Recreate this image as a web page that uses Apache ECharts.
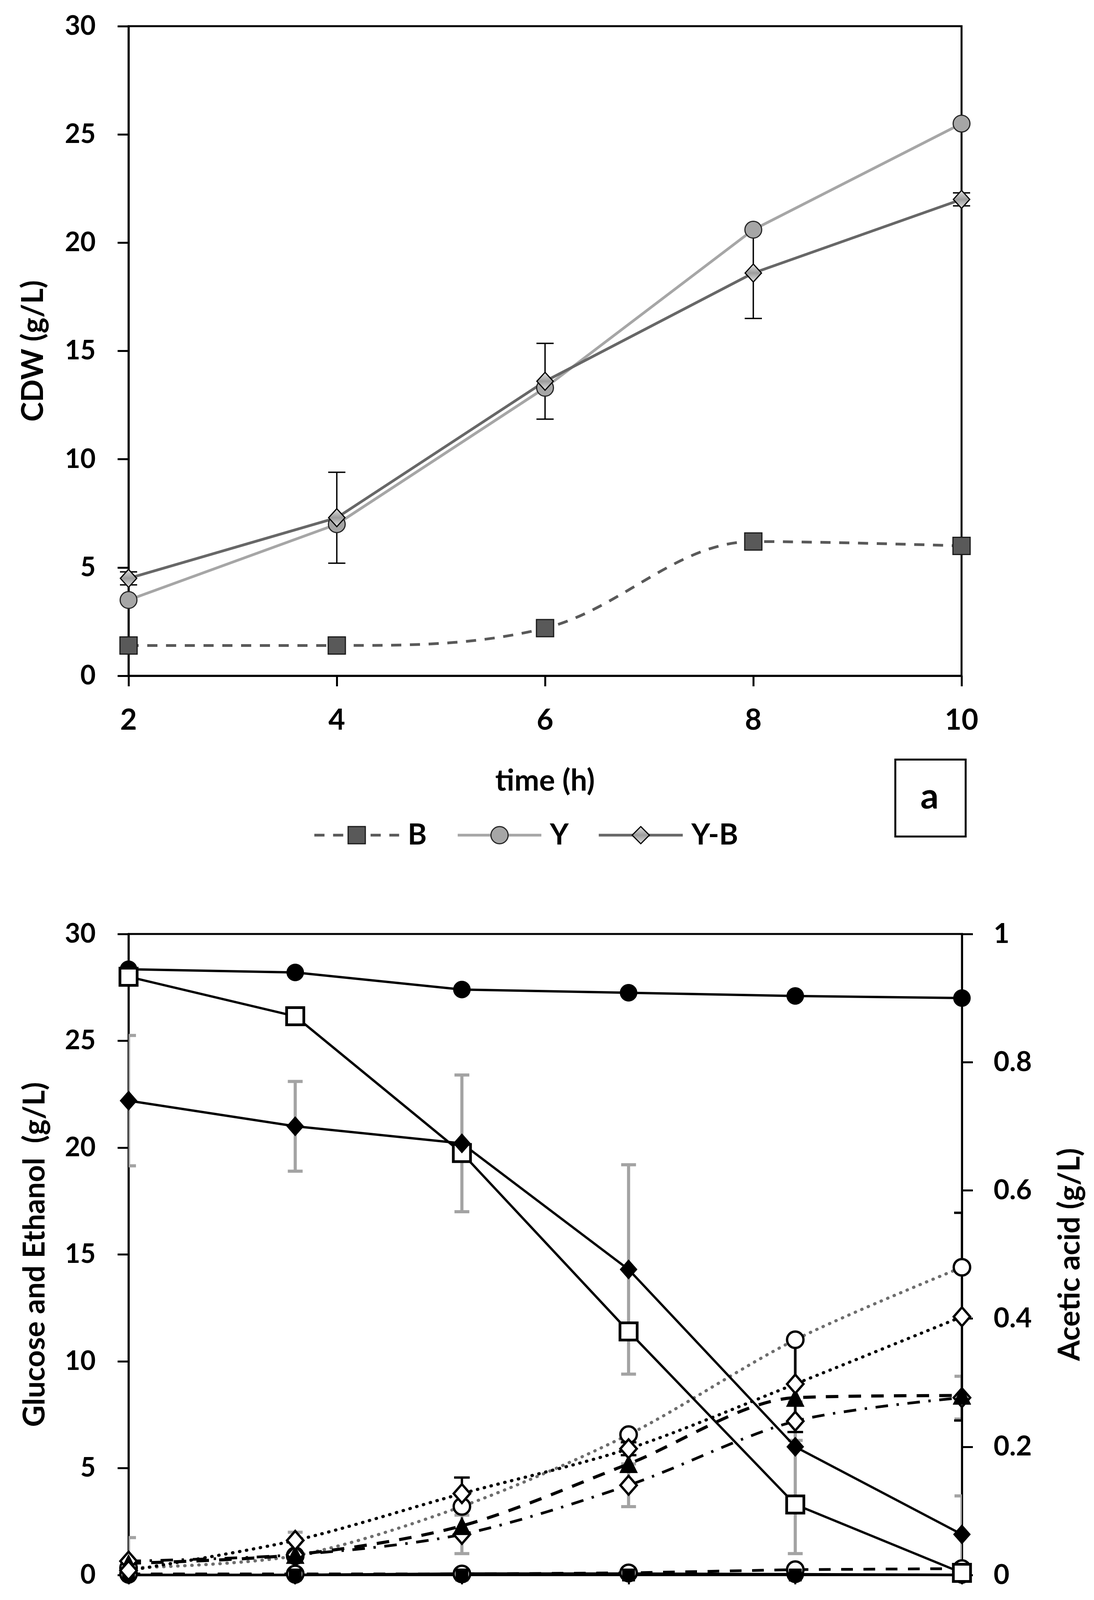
<!DOCTYPE html>
<html><head><meta charset="utf-8">
<script src="https://cdn.jsdelivr.net/npm/echarts@6.0.0/dist/echarts.min.js"></script>
<style>html,body{margin:0;padding:0;background:#fff}#c{width:2800px;height:4917px}</style>
</head><body><div id="c"></div>
<script>
// ---------- panel a : CDW ----------
const timeA = [2, 4, 6, 8, 10];
const cdwB = [1.4, 1.4, 2.2, 6.2, 6.0];
const cdwY = [3.5, 7.0, 13.3, 20.6, 25.5];
const cdwYB = [4.5, 7.3, 13.6, 18.6, 22.0];
const cdwYBErr = [0.3, 2.1, 1.75, 2.1, 0.3];
const axisA = { xMin: 2, xMax: 10, xStep: 2, yMin: 0, yMax: 30, yStep: 5 };

// ---------- panel b : glucose / ethanol / acetic acid ----------
const timeB = [0, 2, 4, 6, 8, 10];
const ybGlucose = [22.2, 21.0, 20.2, 14.3, 6.0, 1.9];
const ybGlucoseErr = [3.05, 2.1, 3.2, 4.9, 5.0, 1.8];
const yGlucose = [28.0, 26.15, 19.75, 11.4, 3.3, 0.1];
const bGlucose = [28.35, 28.2, 27.4, 27.25, 27.1, 27.0];
const ybEthanol = [0.65, 0.95, 1.9, 4.2, 7.2, 8.3];
const ybEthanolErr = [1.1, 1.05, 0.9, 1.0, 0.9, 1.0];
const yEthanol = [0.55, 0.95, 2.3, 5.2, 8.3, 8.4];
const bEthanol = [0.05, 0.05, 0.05, 0.1, 0.25, 0.3];
const ybAcetic = [0.007, 0.054, 0.127, 0.197, 0.298, 0.403];
const ybAceticErr = [0, 0, 0.025, 0.01, 0.075, 0.162];
const bAcetic = [0.011, 0.030, 0.107, 0.219, 0.367, 0.480];
const yAcetic = [0, 0, 0, 0, 0, 0];
const zeroLine = [0, 0, 0.002, 0.002, 0.001, 0];
const axisB = { xMin: 0, xMax: 10, xStep: 2, yMin: 0, yMax: 30, yStep: 5, y2Min: 0, y2Max: 1, y2Step: 0.2 };

const FONT = 'Lato, "Open Sans", sans-serif';
function txt(size) { return { fontFamily: FONT, fontWeight: 'bold', fontSize: size, color: '#000' }; }
function pts(xs, ys) { return xs.map((x, i) => [x, ys[i]]); }
function errPts(xs, ys, es) {
  const out = [];
  xs.forEach((x, i) => { if (es[i] > 0) out.push([x, ys[i] - es[i], ys[i] + es[i]]); });
  return out;
}
function errRender(color, width, cap) {
  return function (params, api) {
    const x = api.value(0), lo = api.value(1), hi = api.value(2);
    const p1 = api.coord([x, lo]), p2 = api.coord([x, hi]);
    const st = { stroke: color, lineWidth: width };
    return { type: 'group', children: [
      { type: 'line', shape: { x1: p1[0], y1: p1[1], x2: p2[0], y2: p2[1] }, style: st },
      { type: 'line', shape: { x1: p1[0] - cap / 2, y1: p1[1], x2: p1[0] + cap / 2, y2: p1[1] }, style: st },
      { type: 'line', shape: { x1: p2[0] - cap / 2, y1: p2[1], x2: p2[0] + cap / 2, y2: p2[1] }, style: st }
    ] };
  };
}

const axisLine = { show: true, lineStyle: { color: '#000', width: 5 } };
function tick(len) { return { show: true, inside: false, length: len, lineStyle: { color: '#000', width: 5 } }; }

const legendCommon = {
  padding: 0, itemHeight: 55, selectedMode: false,
  textStyle: Object.assign(txt(74), { padding: [0, 0, 0, 17] }),
  lineStyle: { width: 'inherit' }, itemStyle: { borderWidth: 'inherit' }
};

const option = {
  animation: false,
  backgroundColor: '#fff',
  grid: [
    { left: 329, top: 67, width: 2132, height: 1663, show: true, borderColor: '#000', borderWidth: 5, containLabel: false, outerBoundsMode: 'none' },
    { left: 329, top: 2391, width: 2133, height: 1641, show: true, borderColor: '#000', borderWidth: 5, containLabel: false, outerBoundsMode: 'none' }
  ],
  xAxis: [
    { type: 'value', gridIndex: 0, min: axisA.xMin, max: axisA.xMax, interval: axisA.xStep,
      axisLine: axisLine, axisTick: tick(27), splitLine: { show: false },
      axisLabel: Object.assign(txt(74), { margin: 77 }),
      name: 'time (h)', nameLocation: 'middle', nameGap: 231, nameTextStyle: txt(76), nameMoveOverlap: false },
    { type: 'value', gridIndex: 1, min: axisB.xMin, max: axisB.xMax, interval: axisB.xStep,
      axisLine: axisLine, axisTick: tick(24), splitLine: { show: false },
      axisLabel: Object.assign(txt(74), { margin: 80 }),
      name: 'time (h)', nameLocation: 'middle', nameGap: 198, nameTextStyle: txt(76), nameMoveOverlap: false }
  ],
  yAxis: [
    { type: 'value', gridIndex: 0, min: axisA.yMin, max: axisA.yMax, interval: axisA.yStep,
      axisLine: axisLine, axisTick: tick(28), splitLine: { show: false },
      axisLabel: Object.assign(txt(68), { margin: 84 }),
      name: 'CDW (g/L)', nameLocation: 'middle', nameRotate: 90, nameGap: 206, nameTextStyle: txt(76), nameMoveOverlap: false },
    { type: 'value', gridIndex: 1, min: axisB.yMin, max: axisB.yMax, interval: axisB.yStep,
      axisLine: axisLine, axisTick: tick(28), splitLine: { show: false },
      axisLabel: Object.assign(txt(68), { margin: 84 }),
      name: 'Glucose and Ethanol  (g/L)', nameLocation: 'middle', nameRotate: 90, nameGap: 202, nameTextStyle: txt(76), nameMoveOverlap: false },
    { type: 'value', gridIndex: 1, position: 'right', min: axisB.y2Min, max: axisB.y2Max, interval: axisB.y2Step,
      axisLine: axisLine, axisTick: tick(28), splitLine: { show: false },
      axisLabel: Object.assign(txt(70), { margin: 81 }),
      name: 'Acetic acid (g/L)', nameLocation: 'middle', nameRotate: 90, nameGap: 238, nameTextStyle: txt(76), nameMoveOverlap: false }
  ],
  legend: [
    Object.assign({ data: ['B'], left: 801, top: 2101, itemWidth: 217 }, legendCommon),
    Object.assign({ data: ['Y'], left: 1168, top: 2101, itemWidth: 214 }, legendCommon),
    Object.assign({ data: ['Y-B'], left: 1529, top: 2101, itemWidth: 215 }, legendCommon),
    Object.assign({ data: ['Y-B glucose', 'Y-glucose', 'B-glucose', 'Y-B acetic acid'], orient: 'vertical', left: 527, top: 4507, itemWidth: 214, itemGap: 51 }, legendCommon),
    Object.assign({ data: ['Y-B ethanol', 'Y-ethanol', 'B-ethanol', 'Y-acetic acid'], orient: 'vertical', left: 1637, top: 4507, itemWidth: 220, itemGap: 51 }, legendCommon)
  ],
  graphic: [
    { type: 'rect', left: 2289, top: 1942, shape: { width: 180, height: 197 }, style: { fill: '#fff', stroke: '#000', lineWidth: 5 } },
    { type: 'text', x: 2379, y: 2040, style: Object.assign({ text: 'a', align: 'center', verticalAlign: 'middle' }, { font: 'bold 92px ' + FONT, fill: '#000' }) },
    { type: 'rect', left: 2350, top: 4271, shape: { width: 179, height: 194 }, style: { fill: '#fff', stroke: '#000', lineWidth: 5 } },
    { type: 'text', x: 2440, y: 4368, style: Object.assign({ text: 'b', align: 'center', verticalAlign: 'middle' }, { font: 'bold 92px ' + FONT, fill: '#000' }) }
  ],
  series: [
    // ---- panel a
    { type: 'custom', name: 'errA', xAxisIndex: 0, yAxisIndex: 0, z: 1, data: errPts(timeA, cdwYB, cdwYBErr),
      renderItem: errRender('#000', 3.5, 44), encode: { x: 0, y: [1, 2] } },
    { type: 'line', name: 'B', xAxisIndex: 0, yAxisIndex: 0, data: pts(timeA, cdwB), smooth: 0.35,
      symbol: 'rect', symbolSize: 44, lineStyle: { color: '#595959', width: 7, type: [26, 22] },
      itemStyle: { color: '#595959', borderColor: '#1a1a1a', borderWidth: 3 } },
    { type: 'line', name: 'Y', xAxisIndex: 0, yAxisIndex: 0, data: pts(timeA, cdwY),
      symbol: 'circle', symbolSize: 43, lineStyle: { color: '#a6a6a6', width: 7 },
      itemStyle: { color: '#a6a6a6', borderColor: '#262626', borderWidth: 3 } },
    { type: 'line', name: 'Y-B', xAxisIndex: 0, yAxisIndex: 0, data: pts(timeA, cdwYB),
      symbol: 'diamond', symbolSize: [42, 46], lineStyle: { color: '#676767', width: 7 },
      itemStyle: { color: { type: 'linear', x: 0, y: 0, x2: 0, y2: 1, colorStops: [
        { offset: 0, color: '#e6e6e6' }, { offset: 0.5, color: '#9c9c9c' }, { offset: 1, color: '#e6e6e6' }] },
        borderColor: '#000', borderWidth: 3 } },
    // ---- panel b error bars
    { type: 'custom', name: 'errGlu', xAxisIndex: 1, yAxisIndex: 1, z: 1, clip: true, data: errPts(timeB, ybGlucose, ybGlucoseErr),
      renderItem: errRender('#a3a3a3', 8, 38), encode: { x: 0, y: [1, 2] } },
    { type: 'custom', name: 'errEth', xAxisIndex: 1, yAxisIndex: 1, z: 1, clip: true, data: errPts(timeB, ybEthanol, ybEthanolErr),
      renderItem: errRender('#a3a3a3', 8, 38), encode: { x: 0, y: [1, 2] } },
    { type: 'custom', name: 'errAce', xAxisIndex: 1, yAxisIndex: 2, z: 1, clip: true, data: errPts(timeB, ybAcetic, ybAceticErr),
      renderItem: errRender('#000', 6, 40), encode: { x: 0, y: [1, 2] } },
    // ---- panel b series not listed in the legend
    { type: 'line', name: 'B acetic acid', xAxisIndex: 1, yAxisIndex: 2, data: pts(timeB, bAcetic), smooth: 0.3,
      symbol: 'circle', symbolSize: 42, lineStyle: { color: '#6e6e6e', width: 8, type: [1, 17], cap: 'round' },
      itemStyle: { color: '#fff', borderColor: '#000', borderWidth: 6 } },
    { type: 'line', name: 'zero', xAxisIndex: 1, yAxisIndex: 2, data: pts(timeB, zeroLine),
      symbol: 'circle', symbolSize: 44, lineStyle: { color: '#000', width: 7 },
      itemStyle: { color: '#000', borderColor: '#000', borderWidth: 1 } },
    // ---- panel b legend series
    { type: 'line', name: 'Y-B ethanol', xAxisIndex: 1, yAxisIndex: 1, data: pts(timeB, ybEthanol), smooth: 0.3,
      symbol: 'diamond', symbolSize: [42, 48], lineStyle: { color: '#000', width: 7, type: [32, 22, 6, 22] },
      itemStyle: { color: '#fff', borderColor: '#000', borderWidth: 6 } },
    { type: 'line', name: 'Y-ethanol', xAxisIndex: 1, yAxisIndex: 1, data: pts(timeB, yEthanol), smooth: 0.3,
      symbol: 'triangle', symbolSize: 46, lineStyle: { color: '#000', width: 8, type: [32, 26] },
      itemStyle: { color: '#000', borderColor: '#000', borderWidth: 1 } },
    { type: 'line', name: 'B-ethanol', xAxisIndex: 1, yAxisIndex: 1, data: pts(timeB, bEthanol),
      symbol: 'circle', symbolSize: 42, lineStyle: { color: '#000', width: 7, type: [30, 27] },
      itemStyle: { color: '#fff', borderColor: '#000', borderWidth: 6 } },
    { type: 'line', name: 'Y-acetic acid', xAxisIndex: 1, yAxisIndex: 2, data: pts(timeB, yAcetic),
      symbol: 'rect', symbolSize: 32, lineStyle: { color: '#000', width: 6, type: [18, 10] },
      itemStyle: { color: '#000', borderColor: '#000', borderWidth: 1 } },
    { type: 'line', name: 'Y-B acetic acid', xAxisIndex: 1, yAxisIndex: 2, data: pts(timeB, ybAcetic), smooth: 0.3,
      symbol: 'diamond', symbolSize: [42, 48], lineStyle: { color: '#000', width: 8, type: [1, 17], cap: 'round' },
      itemStyle: { color: '#fff', borderColor: '#000', borderWidth: 6 } },
    { type: 'line', name: 'B-glucose', xAxisIndex: 1, yAxisIndex: 1, data: pts(timeB, bGlucose),
      symbol: 'circle', symbolSize: 44, lineStyle: { color: '#000', width: 6 },
      itemStyle: { color: '#000', borderColor: '#000', borderWidth: 1 } },
    { type: 'line', name: 'Y-glucose', xAxisIndex: 1, yAxisIndex: 1, data: pts(timeB, yGlucose),
      symbol: 'rect', symbolSize: 44, lineStyle: { color: '#000', width: 6 },
      itemStyle: { color: '#fff', borderColor: '#000', borderWidth: 7 } },
    { type: 'line', name: 'Y-B glucose', xAxisIndex: 1, yAxisIndex: 1, data: pts(timeB, ybGlucose),
      symbol: 'diamond', symbolSize: [44, 50], lineStyle: { color: '#000', width: 6 },
      itemStyle: { color: '#000', borderColor: '#000', borderWidth: 1 } }
  ]
};

const chart = echarts.init(document.getElementById('c'), null, { renderer: 'canvas', width: 2800, height: 4917 });
chart.setOption(option);
</script>
</body></html>
